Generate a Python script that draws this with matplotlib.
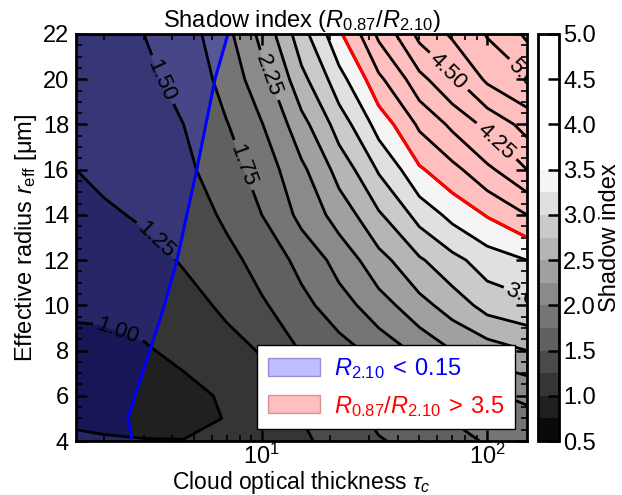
import numpy as np
import matplotlib
matplotlib.use("Agg")
import matplotlib.pyplot as plt
from matplotlib.patches import Patch
from matplotlib.ticker import MultipleLocator

plt.rcParams['font.family'] = ['Liberation Sans', 'DejaVu Sans']
plt.rcParams['mathtext.fontset'] = 'custom'
plt.rcParams['mathtext.rm'] = 'Liberation Sans'
plt.rcParams['mathtext.it'] = 'Liberation Sans:italic'
plt.rcParams['mathtext.bf'] = 'Liberation Sans:bold'

# grid: cloud optical thickness (x) and effective radius (y)
tau = [1.5, 2, 3, 4.5, 7, 10, 15, 22, 33, 50, 70, 100, 150]
r_eff = [4, 5, 6, 8, 10, 12, 14, 16, 18, 20, 22]

# shadow index R0.87/R2.10, one row per r_eff
shadow = [
    [1.03, 1.02, 1.01, 1.005, 1.06, 1.13, 1.22, 1.33, 1.48, 1.60, 1.69, 1.77, 1.85],
    [0.97, 0.95, 0.92, 0.94, 1.01, 1.12, 1.25, 1.38, 1.56, 1.67, 1.76, 1.84, 1.93],
    [0.92, 0.90, 0.89, 0.93, 1.04, 1.15, 1.35, 1.50, 1.64, 1.78, 1.88, 1.97, 2.05],
    [0.95, 0.95, 0.98, 1.06, 1.17, 1.27, 1.52, 1.65, 1.85, 2.07, 2.25, 2.38, 2.50],
    [1.03, 1.04, 1.08, 1.17, 1.30, 1.47, 1.68, 1.90, 2.15, 2.42, 2.62, 2.85, 2.95],
    [1.10, 1.13, 1.18, 1.27, 1.43, 1.60, 1.83, 2.10, 2.42, 2.72, 2.93, 3.13, 3.25],
    [1.18, 1.22, 1.28, 1.37, 1.55, 1.75, 2.08, 2.36, 2.72, 3.10, 3.33, 3.52, 3.75],
    [1.25, 1.30, 1.37, 1.45, 1.65, 1.87, 2.20, 2.60, 3.03, 3.47, 3.68, 3.95, 4.25],
    [1.29, 1.34, 1.43, 1.50, 1.74, 1.99, 2.42, 2.87, 3.36, 3.80, 4.06, 4.33, 4.60],
    [1.31, 1.37, 1.46, 1.57, 1.86, 2.16, 2.68, 3.16, 3.70, 4.18, 4.48, 4.80, 5.00],
    [1.33, 1.40, 1.50, 1.64, 1.94, 2.33, 2.91, 3.46, 4.06, 4.58, 4.79, 5.02, 5.30],
]

# edge of the R2.10 < 0.15 region (tau at each r)
blue_r = [4, 5, 6, 8, 10, 12, 14, 16, 18, 20, 22]
blue_tau = [2.66, 2.55, 2.74, 3.19, 3.70, 4.21, 4.65, 5.15, 5.65, 6.20, 7.08]

label_levels = [1.0, 1.25, 1.5, 1.75, 2.25, 3.0, 4.25, 4.5, 5.0]
label_spots = [(2.3, 8.9), (3.5, 13.0), (3.8, 20.1), (8.2, 16.2), (10.9, 20.2),
               (150, 10.4), (110, 17.3), (66, 20.3), (150, 20.1)]

T, R = np.meshgrid(tau, r_eff)
S = np.array(shadow)

FS = 17
W, H = 622, 495
fig = plt.figure(figsize=(W / 100, H / 100), dpi=100)
ax = fig.add_axes([76 / W, 1 - 441 / H, 451 / W, 407 / H])
cax = fig.add_axes([538 / W, 1 - 441 / H, 21 / W, 407 / H])

fill_levels = np.arange(0.5, 5.01, 0.25)
cf = ax.contourf(T, R, S, levels=fill_levels, cmap='gray', vmin=0.5, vmax=3.5)

line_levels = np.arange(0.5, 5.51, 0.25)
plain_levels = [lv for lv in line_levels if not np.any(np.isclose(lv, label_levels))]
ax.contour(T, R, S, levels=plain_levels, colors='k', linewidths=2)
cs = ax.contour(T, R, S, levels=label_levels, colors='k', linewidths=2)

ax.contourf(T, R, S, levels=[3.5, 10], colors=['red'], alpha=0.25)
ax.contour(T, R, S, levels=[3.5], colors='red', linewidths=2.2)

ax.fill_betweenx(blue_r, 1.5, blue_tau, color='blue', alpha=0.25, lw=0)
ax.plot(blue_tau, blue_r, color='blue', lw=2.2)

ax.set_xscale('log')
ax.set_xlim(1.5, 150)
ax.set_ylim(4, 22)

labels = ax.clabel(cs, fmt='%.2f', fontsize=16, inline=True, manual=label_spots)
for t in labels:
    t.set_clip_path(ax.patch)
    t.set_clip_on(True)

ax.set_yticks(np.arange(4, 23, 2))
ax.yaxis.set_minor_locator(MultipleLocator(0.5))
ax.tick_params(which='both', direction='in', top=True, right=True, labelsize=FS)
ax.tick_params(which='major', length=8, width=1.8)
ax.tick_params(which='minor', length=4.5, width=1.2)
ax.tick_params(axis='y', pad=5)
ax.tick_params(axis='x', pad=2)
for sp in ax.spines.values():
    sp.set_linewidth(2)

ax.set_xlabel(r'Cloud optical thickness $\tau_c$', fontsize=16.5, labelpad=0)
ax.set_ylabel(r'Effective radius $r_\mathrm{eff}$ [μm]', fontsize=FS, labelpad=3)
ax.set_title(r'Shadow index ($R_{0.87}/R_{2.10}$)', fontsize=FS, pad=4)

handles = [Patch(fc=(0, 0, 1, 0.25), ec=(0, 0, 0.6, 0.35), lw=1),
           Patch(fc=(1, 0, 0, 0.25), ec=(0.6, 0, 0, 0.35), lw=1)]
leg = ax.legend(handles, [r'$R_{2.10}\:<\:0.15$', r'$R_{0.87}/R_{2.10}\:>\:3.5$'],
                loc='lower right', fontsize=FS, labelcolor=['blue', 'red'],
                fancybox=False, framealpha=1, edgecolor='k',
                handlelength=2.2, handleheight=0.8, borderaxespad=0.5,
                borderpad=0.45, labelspacing=0.55, handletextpad=0.6)
leg.get_frame().set_linewidth(1)

cb = fig.colorbar(cf, cax=cax, ticks=np.arange(0.5, 5.01, 0.5))
cb.ax.tick_params(direction='in', length=8, width=1.8, labelsize=FS, pad=3)
cb.outline.set_linewidth(2)
cb.set_label('Shadow index', fontsize=FS, labelpad=2)

fig.savefig('out.png', dpi=100)
